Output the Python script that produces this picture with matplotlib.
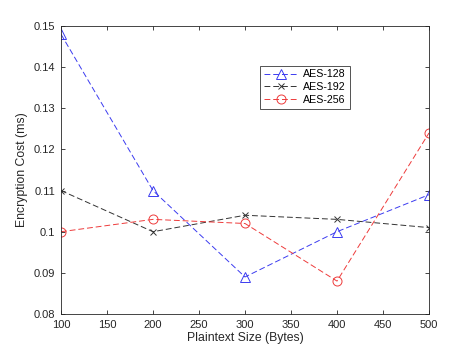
import matplotlib
matplotlib.use('Agg')
import matplotlib.pyplot as plt

plt.rcParams['font.family'] = ['Liberation Sans', 'DejaVu Sans']

sizes = [100, 200, 300, 400, 500]
aes128 = [0.148, 0.110, 0.089, 0.100, 0.109]
aes192 = [0.110, 0.100, 0.104, 0.103, 0.101]
aes256 = [0.100, 0.103, 0.102, 0.088, 0.124]

fig = plt.figure(figsize=(4.74, 3.54), dpi=100)
ax = fig.add_axes([61 / 474, 1 - 314 / 354, 368 / 474, 288 / 354])

ax.plot(sizes, aes128, color='#3b3bf0', linestyle=(0, (6, 3)), linewidth=0.7,
        marker='^', markersize=6.5, markerfacecolor='none', markeredgewidth=0.7, label='AES-128')
ax.plot(sizes, aes192, color='#333333', linestyle=(0, (6, 3)), linewidth=0.7,
        marker='x', markersize=4, markeredgewidth=0.7, label='AES-192')
ax.plot(sizes, aes256, color='#ee3b3b', linestyle=(0, (6, 3)), linewidth=0.7,
        marker='o', markersize=6.5, markerfacecolor='none', markeredgewidth=0.7, label='AES-256')

ax.set_xlim(100, 500)
ax.set_ylim(0.08, 0.15)
ax.set_xticks(range(100, 501, 50))
ax.set_yticks([0.08, 0.09, 0.10, 0.11, 0.12, 0.13, 0.14, 0.15])
ax.set_yticklabels(['0.08', '0.09', '0.1', '0.11', '0.12', '0.13', '0.14', '0.15'])
ax.tick_params(direction='in', top=True, right=True, length=3, width=0.6,
               labelsize=8, colors='#262626', pad=4)
for s in ax.spines.values():
    s.set_linewidth(0.6)
    s.set_color('#262626')

ax.set_xlabel('Plaintext Size (Bytes)', fontsize=8.8, color='#262626', labelpad=2)
ax.set_ylabel('Encryption Cost (ms)', fontsize=8.8, color='#262626', labelpad=4)

leg = ax.legend(loc='upper left', bbox_to_anchor=(0.541, 0.862), fontsize=7.7,
                frameon=True, fancybox=False, edgecolor='#262626', handlelength=3.2,
                borderpad=0.35, labelspacing=0.25, handletextpad=0.5, borderaxespad=0)
leg.get_frame().set_linewidth(0.7)

fig.savefig('out.png', dpi=100)
